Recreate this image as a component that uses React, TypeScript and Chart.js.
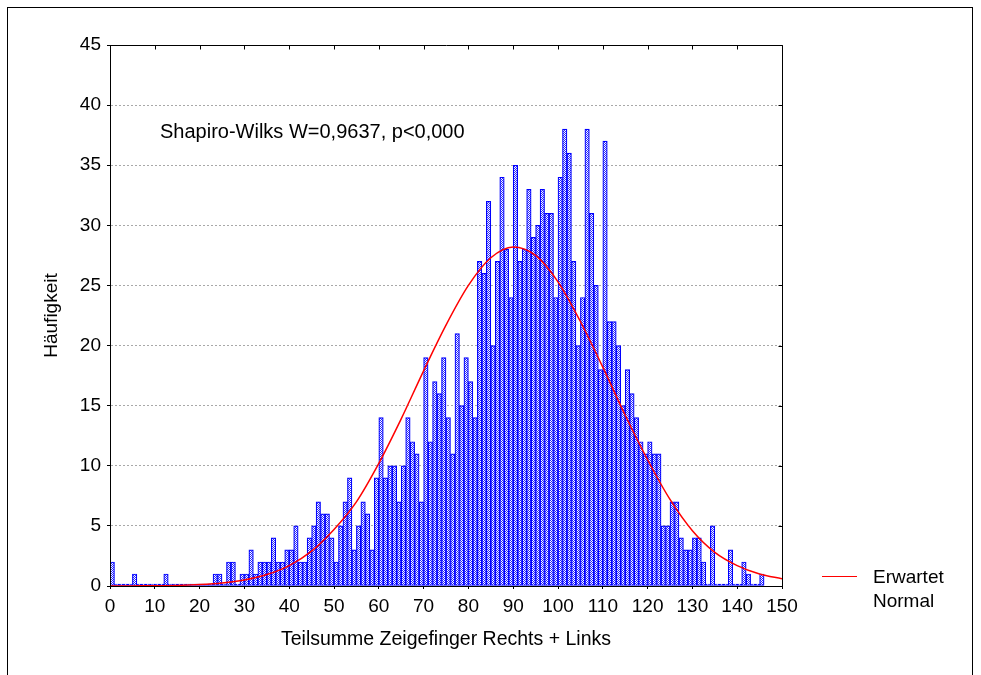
import React, { useEffect, useRef } from "react";
import { Chart, registerables } from "chart.js";

Chart.register(...registerables);

// Histogram: count per bin of width 1, bins starting at 0, 1, 2, ...
const binWidth = 1;
const counts = [
  2, 0, 0, 0, 0, 1, 0, 0, 0, 0,
  0, 0, 1, 0, 0, 0, 0, 0, 0, 0,
  0, 0, 0, 1, 1, 0, 2, 2, 0, 1,
  1, 3, 1, 2, 2, 2, 4, 2, 2, 3,
  3, 5, 2, 2, 4, 5, 7, 6, 6, 4,
  2, 5, 7, 9, 3, 5, 7, 6, 3, 9,
  14, 9, 10, 10, 7, 10, 14, 12, 11, 7,
  19, 12, 17, 16, 19, 14, 11, 21, 15, 19,
  17, 14, 27, 26, 32, 20, 27, 34, 28, 24,
  35, 27, 28, 33, 29, 30, 33, 31, 31, 24,
  34, 38, 36, 27, 20, 24, 38, 31, 25, 18,
  37, 22, 22, 20, 15, 18, 16, 14, 12, 11,
  12, 11, 11, 5, 5, 7, 7, 4, 3, 3,
  4, 4, 2, 0, 5, 0, 0, 0, 3, 0,
  0, 2, 1, 0, 0, 1,
];

// Expected normal curve
const curveX = [0, 5, 10, 15, 20, 25, 30, 35, 40, 45, 50, 55, 60, 65, 70, 75, 80, 85, 90, 95, 100, 105, 110, 115, 120, 125, 130, 135, 140, 145, 150];
const curveY = [0, 0.01, 0.02, 0.05, 0.12, 0.25, 0.5, 0.95, 1.7, 2.9, 4.7, 7.0, 10.2, 13.9, 17.9, 21.7, 25.0, 27.3, 28.2, 27.5, 25.3, 22.0, 18.2, 14.2, 10.5, 7.2, 4.6, 2.8, 1.7, 1.0, 0.6];

const xMin = 0;
const xMax = 150;
const xStep = 10;
const yMin = 0;
const yMax = 45;
const yStep = 5;

const xTitle = "Teilsumme Zeigefinger Rechts + Links";
const yTitle = "Häufigkeit";
const statText = "Shapiro-Wilks W=0,9637, p<0,000";
const legendLines = ["Erwartet", "Normal"];

const FONT = '"Liberation Sans", Arial, Helvetica, sans-serif';
const FS = 19;

function makePattern(): CanvasPattern | string {
  const pc = document.createElement("canvas");
  pc.width = 2;
  pc.height = 2;
  const c = pc.getContext("2d");
  if (!c) return "#8080ff";
  c.fillStyle = "#ffffff";
  c.fillRect(0, 0, 2, 2);
  c.fillStyle = "#2828ff";
  c.fillRect(0, 0, 1, 1);
  c.fillRect(1, 1, 1, 1);
  const p = c.createPattern(pc, "repeat");
  return p || "#8080ff";
}

const framePlugin = {
  id: "frameTicks",
  afterDraw(chart: any) {
    const { ctx, chartArea: a, scales } = chart;
    ctx.save();
    ctx.strokeStyle = "#000";
    ctx.lineWidth = 1;
    const l = Math.round(a.left) + 0.5;
    const t = Math.round(a.top) + 0.5;
    const r = Math.round(a.right) + 0.5;
    const b = Math.round(a.bottom) + 0.5;
    ctx.beginPath();
    ctx.moveTo(l, t);
    ctx.lineTo(r, t);
    ctx.lineTo(r, b);
    ctx.lineTo(l, b);
    ctx.closePath();
    // inward ticks on top and right sides
    scales.x.ticks.forEach((tk: any) => {
      const px = Math.round(scales.x.getPixelForValue(tk.value)) + 0.5;
      ctx.moveTo(px, t);
      ctx.lineTo(px, t + 4);
    });
    scales.y.ticks.forEach((tk: any) => {
      const py = Math.round(scales.y.getPixelForValue(tk.value)) + 0.5;
      ctx.moveTo(r, py);
      ctx.lineTo(r - 4, py);
    });
    ctx.stroke();
    ctx.restore();
  },
};

export default function App() {
  const ref = useRef<HTMLCanvasElement | null>(null);

  useEffect(() => {
    if (!ref.current) return;
    const pattern = makePattern();
    const barData = counts.map((v, i) => ({ x: xMin + i * binWidth + binWidth / 2, y: v }));
    const lineData = curveX.map((x, i) => ({ x, y: curveY[i] }));

    const chart = new Chart(ref.current, {
      type: "bar",
      data: {
        datasets: [
          {
            type: "line",
            label: "Erwartet Normal",
            data: lineData,
            borderColor: "#ff0000",
            borderWidth: 1.5,
            pointRadius: 0,
            cubicInterpolationMode: "monotone",
            fill: false,
            order: 0,
          } as any,
          {
            type: "bar",
            label: "Häufigkeit",
            data: barData,
            backgroundColor: pattern as any,
            borderColor: "#0000ff",
            borderWidth: 1.2,
            borderSkipped: false,
            barPercentage: 1,
            categoryPercentage: 1,
            minBarLength: 2,
            order: 1,
          } as any,
        ],
      },
      options: {
        animation: false,
        responsive: false,
        devicePixelRatio: 1,
        layout: { padding: { top: 45, right: 199, left: 40.6, bottom: 23.6 } },
        plugins: {
          legend: { display: false },
          tooltip: { enabled: false },
        },
        scales: {
          x: {
            type: "linear",
            min: xMin,
            max: xMax,
            offset: false,
            afterFit: (s: any) => {
              s.height = 65.4;
            },
            ticks: {
              stepSize: xStep,
              color: "#000",
              padding: 6,
              maxRotation: 0,
              autoSkip: false,
              font: { family: FONT, size: FS },
            },
            grid: {
              drawOnChartArea: false,
              drawTicks: true,
              tickLength: 3,
              tickColor: "#000",
              offset: false,
            },
            border: { display: true, color: "#000", width: 1 },
            title: {
              display: true,
              text: xTitle,
              color: "#000",
              padding: 0,
              font: { family: FONT, size: 19.5 },
            },
          },
          y: {
            type: "linear",
            min: yMin,
            max: yMax,
            afterFit: (s: any) => {
              s.width = 69.4;
            },
            ticks: {
              stepSize: yStep,
              color: "#000",
              padding: 6,
              font: { family: FONT, size: FS },
            },
            grid: {
              color: "#a8a8a8",
              lineWidth: 1,
              drawTicks: true,
              tickLength: 3,
              tickColor: "#000",
            },
            border: { display: true, color: "#000", width: 1, dash: [2, 2] },
            title: {
              display: true,
              text: yTitle,
              color: "#000",
              padding: 0,
              font: { family: FONT, size: FS },
            },
          },
        },
      },
      plugins: [framePlugin],
    } as any);

    return () => {
      chart.destroy();
    };
  }, []);

  return (
    <div
      style={{
        position: "fixed",
        left: 0,
        top: 0,
        width: 981,
        height: 675,
        overflow: "hidden",
        background: "#fff",
        fontFamily: FONT,
        color: "#000",
      }}
    >
      <div
        style={{
          position: "absolute",
          left: 7,
          top: 7,
          width: 966,
          height: 720,
          boxSizing: "border-box",
          border: "1px solid #000",
        }}
      />
      <canvas
        ref={ref}
        width={981}
        height={675}
        style={{ position: "absolute", left: 0, top: 0, width: 981, height: 675 }}
      />
      <div
        style={{
          position: "absolute",
          left: 160,
          top: 120.6,
          fontSize: 20,
          lineHeight: "20px",
          whiteSpace: "nowrap",
        }}
      >
        {statText}
      </div>
      <div
        style={{
          position: "absolute",
          left: 822,
          top: 575.5,
          width: 35,
          height: 1.5,
          background: "#ff0000",
        }}
      />
      <div
        style={{
          position: "absolute",
          left: 873,
          top: 564.7,
          fontSize: FS,
          lineHeight: "24px",
          whiteSpace: "nowrap",
        }}
      >
        {legendLines.map((t) => (
          <div key={t}>{t}</div>
        ))}
      </div>
    </div>
  );
}
